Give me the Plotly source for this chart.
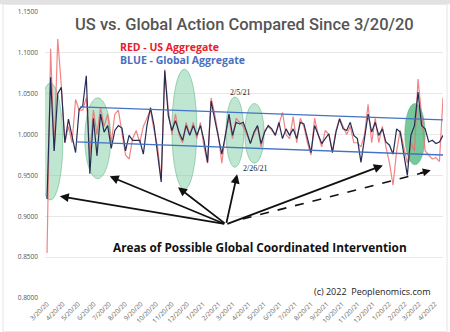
import pandas as pd
import plotly.graph_objects as go

# ---- data ----
start_date = "2020-03-20"
global_vals = [0.921, 1.070, 0.980, 1.050, 1.058, 0.990, 1.019, 0.999, 0.978, 1.031,
               1.035, 1.072, 0.952, 1.020, 0.974, 1.025, 1.003, 1.011, 0.983, 1.005,
               1.011, 1.008, 0.980, 0.999, 0.993, 0.993, 0.993, 0.976, 1.011, 1.033,
               1.011, 0.976, 0.942, 1.078, 1.023, 1.005, 1.017, 1.003, 0.993, 1.011,
               0.999, 1.011, 0.999, 1.011, 0.993, 0.966, 1.041, 1.019, 0.999, 0.976,
               0.999, 1.025, 0.999, 1.015, 1.013, 1.015, 1.003, 0.989, 1.003, 1.011,
               0.989, 1.003, 1.011, 1.007, 0.999, 1.015, 0.995, 1.007, 0.999, 1.007,
               0.995, 1.015, 1.013, 0.995, 0.978, 1.011, 0.999, 0.989, 0.995, 1.001,
               0.978, 1.003, 1.019, 1.007, 1.005, 1.015, 0.999, 0.995, 0.966, 0.999,
               1.025, 1.003, 1.015, 0.999, 1.007, 0.991, 0.987, 0.976, 1.007, 1.003,
               0.978, 0.950, 0.999, 1.011, 1.052, 1.011, 1.007, 0.991, 0.993, 0.989,
               0.991, 0.999]
us_vals = [0.855, 1.105, 0.980, 1.117, 1.060, 0.990, 1.010, 0.990, 1.043, 1.030,
           1.030, 1.045, 0.975, 1.030, 1.000, 1.033, 1.010, 1.025, 0.990, 1.025,
           1.030, 1.000, 0.975, 0.970, 0.995, 1.005, 0.990, 1.010, 1.020, 1.030,
           1.005, 0.985, 0.945, 1.080, 1.030, 1.000, 1.025, 1.000, 0.990, 1.015,
           1.000, 1.015, 0.995, 1.015, 0.985, 0.965, 1.045, 1.025, 1.000, 0.965,
           1.000, 1.020, 0.995, 1.020, 1.015, 1.010, 1.000, 0.990, 1.000, 1.010,
           0.985, 1.005, 1.010, 1.005, 1.000, 1.012, 1.027, 1.000, 0.995, 1.022,
           0.990, 1.020, 1.010, 0.990, 0.975, 1.020, 1.000, 0.985, 1.005, 1.000,
           0.980, 1.005, 1.020, 1.010, 1.000, 1.010, 0.990, 0.990, 0.985, 1.000,
           1.037, 0.990, 1.020, 0.990, 1.010, 0.985, 0.965, 0.938, 0.980, 1.005,
           0.985, 0.965, 0.990, 0.980, 1.068, 1.020, 0.980, 0.975, 0.970, 0.972,
           0.967, 1.045]
dates = pd.date_range(start_date, periods=len(global_vals), freq="7D")

tick_dates = pd.date_range("2020-03-01", "2022-04-01", freq="MS") + pd.Timedelta(days=19)
tick_labels = [f"{d.month}/{d.day}/{d.strftime('%y')}" for d in tick_dates]
y_ticks = [0.80, 0.85, 0.90, 0.95, 1.00, 1.05, 1.10, 1.15]

fig = go.Figure()
fig.add_trace(go.Scatter(x=dates, y=us_vals, mode="lines",
                         line=dict(color="rgba(238,110,110,0.85)", width=1.2), name="US"))
fig.add_trace(go.Scatter(x=dates, y=global_vals, mode="lines",
                         line=dict(color="#272c55", width=1.2), name="Global"))

# frame
fig.add_shape(type="rect", xref="paper", yref="paper", x0=-0.12, x1=1.03, y0=1.027, y1=1.045,
              fillcolor="#e2e2e2", line=dict(width=0), layer="below")
fig.add_shape(type="rect", xref="paper", yref="paper", x0=-0.1055, x1=1.010, y0=-0.118, y1=1.027,
              fillcolor="rgba(0,0,0,0)", line=dict(color="#e4e4e4", width=1), layer="below")

# ellipses
ell_fill = "rgba(110,200,150,0.45)"
ell_line = "rgba(80,170,120,0.6)"
ellipses = [("2020-03-02", "2020-04-20", 0.920, 1.063, ell_fill),
            ("2020-06-02", "2020-07-23", 0.946, 1.045, ell_fill),
            ("2020-11-20", "2021-01-08", 0.933, 1.080, ell_fill),
            ("2021-03-06", "2021-04-10", 0.960, 1.046, ell_fill),
            ("2021-04-12", "2021-05-20", 0.965, 1.038, ell_fill),
            ("2022-02-20", "2022-04-01", 0.963, 1.038, "rgba(60,175,110,0.7)")]
for x0, x1, y0, y1, fc in ellipses:
    fig.add_shape(type="circle", xref="x", yref="y", x0=x0, x1=x1, y0=y0, y1=y1,
                  fillcolor=fc, line=dict(color=ell_line, width=0.8), layer="between")

# trend channel
fig.add_shape(type="line", xref="x", yref="y", x0="2020-05-24", y0=1.034, x1="2022-05-06", y1=1.018,
              line=dict(color="#4472c4", width=1.3))
fig.add_shape(type="line", xref="x", yref="y", x0="2020-05-16", y0=0.991, x1="2022-05-06", y1=0.975,
              line=dict(color="#4472c4", width=1.3))

# arrows (tip in data coords, tail as pixel offset)
arrow_tips = [("2020-04-14", 0.9246, 166, 28),
              ("2020-07-21", 0.9489, 116, 48),
              ("2020-12-02", 0.9355, 48, 37),
              ("2021-03-28", 0.9513, -11, 50),
              ("2022-01-08", 0.9623, -157, 59)]
for x, y, ax, ay in arrow_tips:
    fig.add_annotation(x=x, y=y, xref="x", yref="y", ax=ax, ay=ay, text="",
                       showarrow=True, arrowhead=2, arrowsize=1, arrowwidth=1.8,
                       arrowcolor="#111111")
fig.add_shape(type="line", xref="x", yref="y", x0="2021-04-08", y0=0.8966, x1="2022-04-06", y1=0.9547,
              line=dict(color="#111111", width=1.6, dash="dash"))
fig.add_annotation(x="2022-04-12", y=0.9562, xref="x", yref="y", ax=-12, ay=3, text="",
                   showarrow=True, arrowhead=2, arrowsize=1, arrowwidth=1.6, arrowcolor="#111111")

# texts
fig.add_annotation(xref="paper", yref="paper", x=0.501, y=0.958, text="US vs. Global Action Compared Since 3/20/20",
                   showarrow=False, xanchor="center", yanchor="middle",
                   font=dict(family="Roboto, sans-serif", size=16.5, color="#555555", weight=500))
fig.add_annotation(xref="paper", yref="paper", x=0.183, y=0.878, text="<b>RED - US Aggregate</b>",
                   showarrow=False, xanchor="left", yanchor="middle",
                   font=dict(family="Open Sans, sans-serif", size=10.5, color="#e8202a"))
fig.add_annotation(xref="paper", yref="paper", x=0.183, y=0.833, text="<b>BLUE - Global Aggregate</b>",
                   showarrow=False, xanchor="left", yanchor="middle",
                   font=dict(family="Open Sans, sans-serif", size=10.5, color="#4a6fc0"))
fig.add_annotation(x="2021-03-10", y=1.052, xref="x", yref="y", text="2/5/21", showarrow=False,
                   xanchor="left", font=dict(family="Liberation Serif, serif", size=8, color="#222222"))
fig.add_annotation(x="2021-04-04", y=0.959, xref="x", yref="y", text="2/26/21", showarrow=False,
                   xanchor="left", font=dict(family="Liberation Serif, serif", size=8, color="#222222"))
fig.add_annotation(xref="paper", yref="paper", x=0.539, y=0.177,
                   text="<b>Areas of Possible Global Coordinated Intervention</b>", showarrow=False,
                   xanchor="center", yanchor="middle",
                   font=dict(family="Open Sans, sans-serif", size=11.8, color="#111111"))
fig.add_annotation(xref="paper", yref="paper", x=0.975, y=0.021, text="(c) 2022  Peoplenomics.com",
                   showarrow=False, xanchor="right", yanchor="middle",
                   font=dict(family="Open Sans, sans-serif", size=9, color="#222222"))

fig.update_layout(
    width=450, height=332,
    margin=dict(l=45, r=7, t=11, b=33),
    paper_bgcolor="white", plot_bgcolor="white",
    showlegend=False,
    xaxis=dict(type="date", range=["2020-03-16", "2022-05-06"],
               tickvals=list(tick_dates), ticktext=tick_labels, tickangle=-45,
               tickfont=dict(family="Open Sans, sans-serif", size=6.5, color="#666666"),
               showgrid=False, showline=False, zeroline=False, ticks=""),
    yaxis=dict(range=[0.80, 1.15], tickvals=y_ticks, tickformat=".4f",
               tickfont=dict(family="Open Sans, sans-serif", size=6.5, color="#555555"),
               showgrid=True, gridcolor="#e8e8e8", gridwidth=1, zeroline=False, showline=False,
               ticks="", ticklabelstandoff=6),
)
fig.write_html("out.html")
